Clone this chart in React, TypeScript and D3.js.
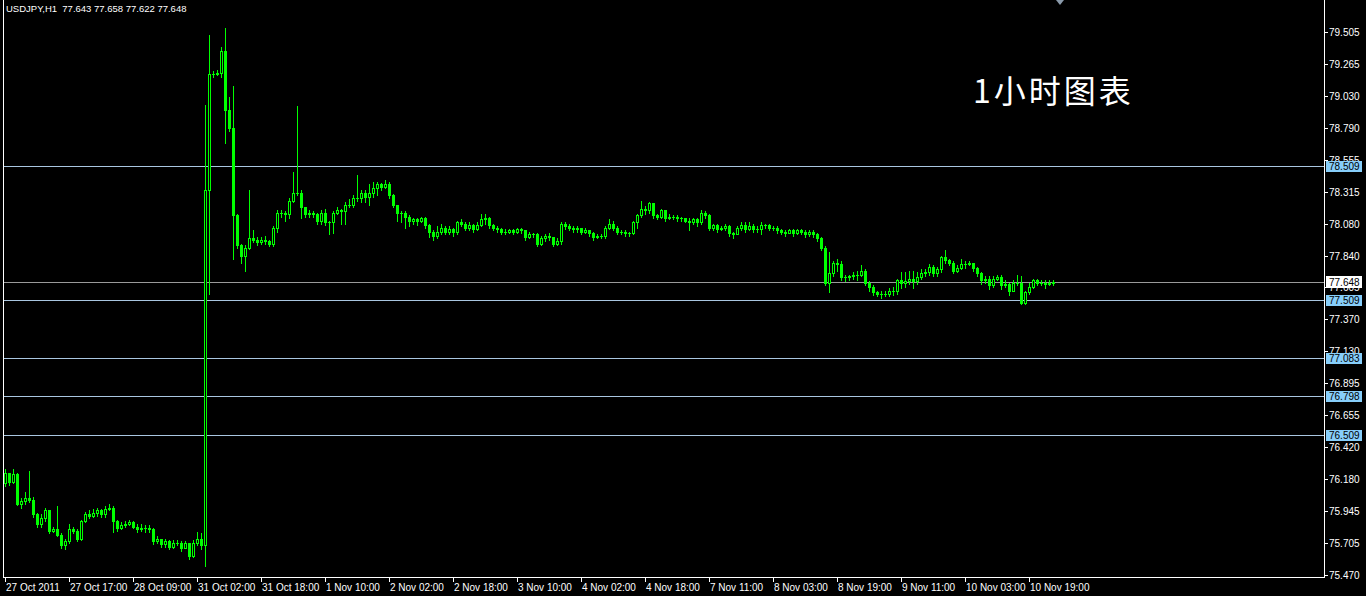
import React from "react";
import * as d3 from "d3";

const SYMBOL = "USDJPY,H1";
const HEADER_OHLC = ["77.643", "77.658", "77.622", "77.648"];
const TITLE = "1小时图表";

const FIRST_OPEN = 76.15;

const closes = [
  76.23, 76.16, 76.22, 76.00, 76.02, 76.04, 76.03, 75.92, 75.85, 75.89,
  75.95, 75.80, 75.81, 75.77, 75.69, 75.72, 75.81, 75.80, 75.74, 75.87,
  75.92, 75.91, 75.93, 75.95, 75.92, 75.96, 75.97, 75.87, 75.82, 75.84,
  75.85, 75.86, 75.83, 75.81, 75.82, 75.82, 75.81, 75.72, 75.74, 75.70,
  75.72, 75.68, 75.71, 75.71, 75.67, 75.71, 75.61, 75.71, 75.74, 75.69,
  78.33, 79.19, 79.19, 79.20, 79.36, 78.92, 78.79, 78.14, 77.92, 77.84,
  77.90, 77.97, 77.96, 77.94, 77.96, 77.95, 77.93, 78.05, 78.16, 78.16,
  78.15, 78.25, 78.31, 78.31, 78.20, 78.15, 78.16, 78.15, 78.10, 78.16,
  78.09, 78.09, 78.16, 78.18, 78.17, 78.22, 78.22, 78.27, 78.27, 78.31,
  78.28, 78.31, 78.34, 78.37, 78.35, 78.37, 78.29, 78.22, 78.16, 78.16,
  78.13, 78.10, 78.11, 78.10, 78.12, 78.07, 78.02, 77.99, 78.02, 78.05,
  78.02, 78.04, 78.02, 78.09, 78.08, 78.05, 78.07, 78.04, 78.07, 78.11,
  78.12, 78.07, 78.05, 78.04, 78.02, 78.02, 78.03, 78.02, 78.04, 78.03,
  77.98, 78.00, 78.00, 77.93, 77.97, 77.99, 77.98, 77.93, 77.95, 78.08,
  78.06, 78.05, 78.04, 78.05, 78.02, 78.03, 78.01, 77.98, 77.99, 77.99,
  78.05, 78.08, 78.05, 78.02, 78.02, 78.01, 78.01, 78.09, 78.14, 78.19,
  78.18, 78.23, 78.14, 78.13, 78.18, 78.12, 78.13, 78.13, 78.12, 78.12,
  78.10, 78.09, 78.11, 78.09, 78.16, 78.14, 78.05, 78.07, 78.04, 78.05,
  78.06, 78.01, 78.00, 78.05, 78.07, 78.04, 78.06, 78.04, 78.04, 78.07,
  78.07, 78.05, 78.05, 78.03, 78.02, 78.01, 78.03, 78.01, 78.03, 78.02,
  78.00, 78.02, 78.00, 77.97, 77.90, 77.64, 77.71, 77.79, 77.78, 77.68,
  77.68, 77.69, 77.70, 77.70, 77.73, 77.64, 77.61, 77.57, 77.56, 77.56,
  77.56, 77.58, 77.58, 77.66, 77.64, 77.65, 77.67, 77.65, 77.68, 77.71,
  77.72, 77.76, 77.71, 77.74, 77.83, 77.81, 77.79, 77.73, 77.75, 77.78,
  77.78, 77.79, 77.75, 77.71, 77.66, 77.67, 77.62, 77.67, 77.68, 77.62,
  77.63, 77.58, 77.64, 77.64, 77.49, 77.57, 77.61, 77.66, 77.64, 77.64,
  77.63, 77.64, 77.648,
];

const highs = [
  76.26, 76.20, 76.26, 76.23, 76.04, 76.09, 76.24, 76.05, 75.93, 75.92,
  75.97, 75.95, 75.83, 75.98, 75.78, 75.74, 75.85, 75.83, 75.81, 75.88,
  75.94, 75.95, 75.96, 75.97, 75.96, 75.98, 76.00, 75.98, 75.88, 75.86,
  75.87, 75.88, 75.87, 75.85, 75.85, 75.84, 75.84, 75.82, 75.76, 75.74,
  75.74, 75.73, 75.73, 75.73, 75.72, 75.72, 75.71, 75.73, 75.79, 75.78,
  78.96, 79.48, 79.21, 79.22, 79.39, 79.53, 79.02, 79.10, 78.15, 77.93,
  77.92, 78.33, 78.03, 77.98, 77.98, 77.99, 77.96, 78.06, 78.18, 78.18,
  78.17, 78.27, 78.46, 78.95, 78.33, 78.18, 78.18, 78.17, 78.16, 78.18,
  78.19, 78.10, 78.17, 78.20, 78.19, 78.24, 78.26, 78.29, 78.44, 78.33,
  78.33, 78.37, 78.39, 78.39, 78.38, 78.40, 78.39, 78.30, 78.22, 78.17,
  78.17, 78.14, 78.12, 78.12, 78.13, 78.13, 78.08, 78.03, 78.06, 78.08,
  78.06, 78.06, 78.05, 78.10, 78.11, 78.09, 78.09, 78.08, 78.09, 78.15,
  78.15, 78.13, 78.08, 78.06, 78.05, 78.04, 78.04, 78.04, 78.05, 78.05,
  78.03, 78.02, 78.01, 78.01, 77.99, 78.00, 78.01, 77.98, 77.97, 78.09,
  78.09, 78.08, 78.06, 78.06, 78.05, 78.05, 78.03, 78.02, 78.00, 78.00,
  78.06, 78.11, 78.10, 78.06, 78.03, 78.03, 78.02, 78.10, 78.15, 78.25,
  78.21, 78.24, 78.23, 78.15, 78.19, 78.18, 78.15, 78.14, 78.14, 78.13,
  78.12, 78.12, 78.12, 78.12, 78.18, 78.17, 78.15, 78.08, 78.08, 78.06,
  78.08, 78.07, 78.02, 78.06, 78.09, 78.09, 78.09, 78.08, 78.06, 78.09,
  78.08, 78.08, 78.06, 78.06, 78.04, 78.03, 78.04, 78.04, 78.04, 78.04,
  78.03, 78.03, 78.03, 78.01, 77.98, 77.91, 77.87, 77.80, 77.82, 77.80,
  77.70, 77.70, 77.72, 77.73, 77.77, 77.74, 77.65, 77.62, 77.58, 77.58,
  77.58, 77.60, 77.61, 77.67, 77.72, 77.72, 77.73, 77.73, 77.72, 77.74,
  77.74, 77.78, 77.77, 77.76, 77.84, 77.88, 77.82, 77.80, 77.77, 77.82,
  77.80, 77.80, 77.79, 77.76, 77.72, 77.69, 77.69, 77.69, 77.70, 77.70,
  77.66, 77.64, 77.66, 77.70, 77.69, 77.58, 77.64, 77.67, 77.67, 77.66,
  77.66, 77.66, 77.658,
];

const lows = [
  76.13, 76.14, 76.15, 75.99, 75.97, 76.00, 76.01, 75.90, 75.83, 75.83,
  75.87, 75.78, 75.79, 75.76, 75.67, 75.66, 75.71, 75.78, 75.72, 75.73,
  75.86, 75.89, 75.90, 75.91, 75.90, 75.90, 75.95, 75.79, 75.80, 75.81,
  75.83, 75.84, 75.82, 75.79, 75.80, 75.79, 75.79, 75.70, 75.71, 75.68,
  75.68, 75.66, 75.67, 75.69, 75.65, 75.68, 75.59, 75.60, 75.69, 75.66,
  75.54, 77.56, 79.17, 79.18, 79.17, 78.68, 78.77, 77.82, 77.90, 77.79,
  77.73, 77.89, 77.94, 77.92, 77.93, 77.93, 77.91, 77.91, 78.02, 78.13,
  78.10, 78.12, 78.24, 78.29, 78.12, 78.13, 78.13, 78.13, 78.08, 78.08,
  78.07, 78.00, 78.01, 78.15, 78.08, 78.08, 78.20, 78.20, 78.25, 78.24,
  78.24, 78.22, 78.28, 78.29, 78.33, 78.34, 78.27, 78.20, 78.10, 78.09,
  78.05, 78.06, 78.08, 78.07, 78.09, 78.05, 77.98, 77.96, 77.97, 78.00,
  78.00, 78.00, 77.99, 78.00, 78.06, 78.03, 78.03, 78.02, 78.03, 78.06,
  78.08, 78.05, 78.03, 78.02, 78.00, 78.00, 78.01, 78.00, 78.01, 78.01,
  77.96, 77.97, 77.98, 77.91, 77.92, 77.95, 77.96, 77.91, 77.92, 77.93,
  78.04, 78.03, 78.02, 78.02, 78.00, 78.01, 77.99, 77.96, 77.97, 77.97,
  77.97, 78.04, 78.03, 78.00, 78.00, 77.99, 77.99, 78.00, 78.05, 78.13,
  78.15, 78.16, 78.12, 78.11, 78.12, 78.10, 78.11, 78.11, 78.10, 78.10,
  78.09, 78.03, 78.08, 78.06, 78.08, 78.12, 78.03, 78.03, 78.02, 78.03,
  78.03, 77.99, 77.97, 78.00, 78.03, 78.02, 78.03, 78.02, 78.02, 78.00,
  78.05, 78.03, 78.03, 78.01, 78.00, 77.99, 78.01, 77.99, 78.00, 78.00,
  77.98, 77.99, 77.98, 77.95, 77.88, 77.62, 77.57, 77.69, 77.73, 77.66,
  77.65, 77.66, 77.67, 77.66, 77.69, 77.62, 77.58, 77.55, 77.54, 77.53,
  77.54, 77.54, 77.55, 77.56, 77.60, 77.61, 77.63, 77.60, 77.63, 77.67,
  77.69, 77.70, 77.69, 77.69, 77.72, 77.79, 77.77, 77.71, 77.72, 77.74,
  77.75, 77.77, 77.73, 77.69, 77.63, 77.64, 77.59, 77.61, 77.66, 77.59,
  77.61, 77.55, 77.58, 77.62, 77.48, 77.48, 77.56, 77.60, 77.62, 77.62,
  77.60, 77.62, 77.622,
];

const priceTicks = [
  "79.505", "79.265", "79.030", "78.790", "78.555", "78.315", "78.080", "77.840", "77.605",
  "77.370", "77.130", "76.895", "76.655", "76.420", "76.180", "75.945", "75.705", "75.470",
];

const timeLabels = [
  "27 Oct 2011", "27 Oct 17:00", "28 Oct 09:00", "31 Oct 02:00", "31 Oct 18:00",
  "1 Nov 10:00", "2 Nov 02:00", "2 Nov 18:00", "3 Nov 10:00", "4 Nov 02:00",
  "4 Nov 18:00", "7 Nov 11:00", "8 Nov 03:00", "8 Nov 19:00", "9 Nov 11:00",
  "10 Nov 03:00", "10 Nov 19:00",
];
const TIME_LABEL_STEP = 16;

const levelLines = ["78.509", "77.509", "77.083", "76.798", "76.509"];
const bidPrice = "77.648";

const GREEN = "#00ff00";
const FONT = "'Liberation Sans', Arial, sans-serif";

export default function App() {
  const W = 1366;
  const H = 596;
  const plotLeft = 3;
  const plotRight = 1324;
  const plotBottom = 577;
  const n = closes.length;

  const x = d3.scaleLinear().domain([0, n - 1]).range([5, 5 + 4 * (n - 1)]);
  const y = d3.scaleLinear().domain([75.47, 79.505]).range([575, 31.6]);

  const candles = closes.map((c, i) => {
    const o = i === 0 ? FIRST_OPEN : closes[i - 1];
    const h = Math.max(highs[i], o, c);
    const l = Math.min(lows[i], o, c);
    return { i, o, h, l, c };
  });

  const py = (v: number) => Math.round(y(v));

  return (
    <svg
      width={W}
      height={H}
      style={{ position: "absolute", left: 0, top: 0, display: "block", background: "#000" }}
    >
      <rect x={0} y={0} width={W} height={H} fill="#000" />

      {/* frame */}
      <line x1={plotLeft + 0.5} x2={plotLeft + 0.5} y1={0} y2={plotBottom + 1} stroke="#ffffff" />
      <line x1={plotRight + 0.5} x2={plotRight + 0.5} y1={0} y2={plotBottom + 1} stroke="#ffffff" />
      <line x1={plotLeft} x2={plotRight + 1} y1={plotBottom + 0.5} y2={plotBottom + 0.5} stroke="#ffffff" />

      {/* header */}
      <text x={6} y={12} fill="#ffffff" fontFamily={FONT} fontSize={9.5} style={{ whiteSpace: "pre" }}>
        {SYMBOL + "  " + HEADER_OHLC.join(" ")}
      </text>

      {/* title */}
      <text x={973} y={103} fill="#ffffff" fontFamily="'Noto Sans CJK SC', sans-serif" fontSize={32} letterSpacing={3}>
        {TITLE}
      </text>

      {/* shift marker */}
      <polygon points="1056,0 1064,0 1060,5" fill="#8a9aaa" />

      {/* price axis */}
      {priceTicks.map((t) => {
        const yy = py(+t);
        return (
          <g key={t}>
            <line x1={plotRight + 1} x2={plotRight + 4} y1={yy + 0.5} y2={yy + 0.5} stroke="#ffffff" />
            <text x={plotRight + 5} y={yy + 4} fill="#ffffff" fontFamily={FONT} fontSize={10}>
              {t}
            </text>
          </g>
        );
      })}

      {/* time axis */}
      {timeLabels.map((t, k) => {
        const xx = Math.round(x(k * TIME_LABEL_STEP));
        return (
          <g key={t}>
            <line x1={xx + 0.5} x2={xx + 0.5} y1={plotBottom + 1} y2={plotBottom + 5} stroke="#ffffff" />
            <text x={xx + 1} y={591} fill="#ffffff" fontFamily={FONT} fontSize={10}>
              {t}
            </text>
          </g>
        );
      })}

      {/* horizontal levels */}
      {levelLines.map((v) => {
        const yy = py(+v);
        return (
          <line key={v} x1={plotLeft + 1} x2={plotRight} y1={yy + 0.5} y2={yy + 0.5} stroke="#a9c6e0" />
        );
      })}
      <line x1={plotLeft + 1} x2={plotRight} y1={py(+bidPrice) + 0.5} y2={py(+bidPrice) + 0.5} stroke="#9a9a9a" />

      {/* candles */}
      {candles.map((d) => {
        const cx = Math.round(x(d.i));
        const yh = py(d.h);
        const yl = py(d.l);
        const yo = py(d.o);
        const yc = py(d.c);
        const top = Math.min(yo, yc);
        const bot = Math.max(yo, yc);
        const bull = d.c > d.o;
        return (
          <g key={d.i}>
            <line x1={cx + 0.5} x2={cx + 0.5} y1={yh} y2={yl + 1} stroke={GREEN} />
            {bot - top < 1 ? (
              <line x1={cx - 1} x2={cx + 2} y1={top + 0.5} y2={top + 0.5} stroke={GREEN} />
            ) : bull ? (
              <rect x={cx - 0.5} y={top + 0.5} width={2} height={bot - top} fill="#000" stroke={GREEN} />
            ) : (
              <rect x={cx - 1} y={top} width={3} height={bot - top + 1} fill={GREEN} />
            )}
          </g>
        );
      })}

      {/* level labels */}
      {levelLines.map((v) => {
        const yy = py(+v);
        return (
          <g key={"l" + v}>
            <rect x={plotRight + 2} y={yy - 5} width={36} height={11} fill="#87cefa" />
            <text x={plotRight + 5} y={yy + 4} fill="#000000" fontFamily={FONT} fontSize={10}>
              {v}
            </text>
          </g>
        );
      })}
      <g>
        <rect x={plotRight + 2} y={py(+bidPrice) - 6} width={36} height={12} fill="#ffffff" />
        <text x={plotRight + 5} y={py(+bidPrice) + 4} fill="#000000" fontFamily={FONT} fontSize={10}>
          {bidPrice}
        </text>
      </g>
    </svg>
  );
}
